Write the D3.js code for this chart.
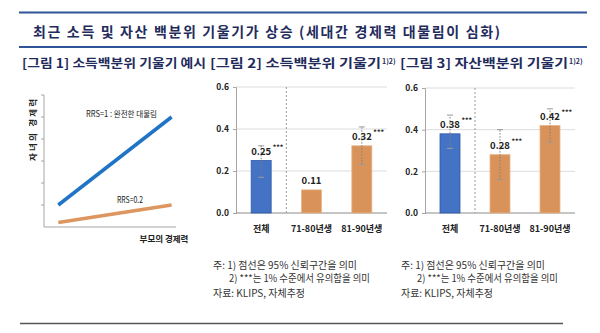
<!DOCTYPE html>
<html>
<head>
<meta charset="utf-8">
<script src="https://cdn.jsdelivr.net/npm/d3@7"></script>
<style>
  body { margin: 0; background: #fff; }
  svg { display: block; font-family: "Noto Sans CJK KR", "Noto Sans", sans-serif; }
</style>
</head>
<body>
<svg id="chart" width="600" height="333"></svg>
<script>
// --- data ---
var title = '최근 소득 및 자산 백분위 기울기가 상승 (세대간 경제력 대물림이 심화)'
var panelTitles = ['[그림 1] 소득백분위 기울기 예시', '[그림 2] 소득백분위 기울기', '[그림 3] 자산백분위 기울기']
var panelSup = ['', '1)2)', '1)2)']

var categories = ['전체', '71-80년생', '81-90년생']
var yTicks = [0, 0.2, 0.4, 0.6]

var incomeValues = [0.25, 0.11, 0.32]
var incomeLow = [0.17, null, 0.23]
var incomeHigh = [0.32, null, 0.41]
var incomeSig = [true, false, true]

var assetValues = [0.38, 0.28, 0.42]
var assetLow = [0.31, 0.16, 0.34]
var assetHigh = [0.47, 0.40, 0.50]
var assetSig = [true, true, true]

// example panel: parent power (x) vs child power (y), arbitrary units
var exTicks = [1, 2, 3, 4, 5, 6]
var rrs1 = [[0.65, 1.0], [5.8, 5.0]]
var rrs02 = [[0.65, 0.2], [5.8, 1.0]]

var notes = ['주: 1) 점선은 95% 신뢰구간을 의미', '2) ***는 1% 수준에서 유의함을 의미', '자료: KLIPS, 자체추정']

var navy = '#1f2c5c', lineBlue = '#2f5597'
var barBlue = '#4472c4', barOrange = '#d9935a'

var svg = d3.select('#chart')

// --- header ---
svg.append('line').attr('x1', 19).attr('x2', 587).attr('y1', 12.5).attr('y2', 12.5)
  .attr('stroke', lineBlue).attr('stroke-width', 2)
svg.append('line').attr('x1', 19).attr('x2', 587).attr('y1', 47).attr('y2', 47)
  .attr('stroke', lineBlue).attr('stroke-width', 2)
svg.append('text').attr('x', 33).attr('y', 36.5)
  .attr('textLength', 467).attr('lengthAdjust', 'spacing')
  .style('font-size', '14px').style('font-weight', 'bold').attr('fill', navy)
  .text(title)

var ptX = [22, 210, 400], ptW = [184, 171, 168]
panelTitles.forEach(function(t, i) {
  var tx = svg.append('text').attr('x', ptX[i]).attr('y', 68)
    .style('font-size', '12.5px').style('font-weight', 'bold').attr('fill', navy)
  tx.append('tspan').attr('textLength', ptW[i]).attr('lengthAdjust', 'spacingAndGlyphs').text(t)
  if (panelSup[i]) tx.append('tspan').attr('dy', -4).attr('dx', 1)
    .style('font-size', '7px').text(panelSup[i])
})

// --- panel 1: example ---
var ex = svg.append('g')
var exX = d3.scaleLinear().domain([0, 6]).range([44, 176])
var exY = d3.scaleLinear().domain([0, 6]).range([227, 95])
ex.append('line').attr('x1', exX(0)).attr('x2', exX(0)).attr('y1', exY(0)).attr('y2', exY(6))
  .attr('stroke', '#a6a6a6')
ex.append('line').attr('x1', exX(0)).attr('x2', exX(6)).attr('y1', exY(0)).attr('y2', exY(0))
  .attr('stroke', '#a6a6a6')
ex.selectAll('.tk').data(exTicks).join('line')
  .attr('x1', exX(0) - 3).attr('x2', exX(0)).attr('y1', d => exY(d)).attr('y2', d => exY(d))
  .attr('stroke', '#a6a6a6')
var exLine = d3.line().x(d => exX(d[0])).y(d => exY(d[1]))
ex.append('path').attr('d', exLine(rrs1)).attr('stroke', '#1f74c6').attr('stroke-width', 3.5).attr('fill', 'none')
ex.append('path').attr('d', exLine(rrs02)).attr('stroke', '#dd9660').attr('stroke-width', 3.5).attr('fill', 'none')
ex.append('text').attr('x', 86).attr('y', 116.5).style('font-size', '8.5px').attr('fill', '#222')
  .attr('textLength', 71).attr('lengthAdjust', 'spacingAndGlyphs').text('RRS=1 : 완전한 대물림')
ex.append('text').attr('x', 117).attr('y', 202.5).style('font-size', '8.5px').attr('fill', '#222')
  .attr('textLength', 26).attr('lengthAdjust', 'spacingAndGlyphs').text('RRS=0.2')
ex.append('text').attr('transform', 'translate(36,130) rotate(-90)').attr('text-anchor', 'middle')
  .attr('textLength', 62).attr('lengthAdjust', 'spacing')
  .style('font-size', '8.5px').style('font-weight', 'bold').attr('fill', '#222').text('자녀의 경제력')
ex.append('text').attr('x', 164).attr('y', 242).attr('text-anchor', 'middle')
  .style('font-size', '8.5px').style('font-weight', 'bold').attr('fill', '#222').text('부모의 경제력')

// --- bar panels ---
function barPanel(x0, x1, yTop, values, low, high, sig) {
  var g = svg.append('g')
  var x = d3.scalePoint().domain(categories).range([x0, x1]).padding(0.5)
  var y = d3.scaleLinear().domain([0, 0.6]).range([213, yTop])
  var step = x.step(), bw = 20

  g.selectAll('.grid').data(yTicks.slice(1)).join('line')
    .attr('x1', x0).attr('x2', x1).attr('y1', d => y(d)).attr('y2', d => y(d))
    .attr('stroke', '#dcdcdc')
  var ax = g.append('g').attr('transform', 'translate(' + x0 + ',0)')
    .call(d3.axisLeft(y).tickValues(yTicks).tickFormat(d3.format('.1f')).tickSize(3))
  ax.select('.domain').attr('stroke', '#a6a6a6')
  ax.selectAll('.tick line').attr('stroke', '#a6a6a6')
  ax.selectAll('.tick text').attr('x', -7).style('font-size', '8.5px').style('font-weight', 'bold')
    .style('font-family', '"Noto Sans CJK KR", sans-serif').attr('fill', '#222')
  g.append('line').attr('x1', x0).attr('x2', x1).attr('y1', y(0)).attr('y2', y(0))
    .attr('stroke', '#8c8c8c').attr('stroke-width', 1.2)
  var sep = x(categories[0]) + step / 2
  g.append('line').attr('x1', sep).attr('x2', sep).attr('y1', y(0.6)).attr('y2', y(0))
    .attr('stroke', '#9a9a9a').attr('stroke-dasharray', '2,2')

  g.selectAll('.bar').data(values).join('rect')
    .attr('x', (d, i) => x(categories[i]) - bw / 2).attr('width', bw)
    .attr('y', d => y(d)).attr('height', d => y(0) - y(d))
    .attr('fill', (d, i) => i == 0 ? barBlue : barOrange)
    .attr('stroke', (d, i) => i == 0 ? '#2f5aa8' : '#e7b488').attr('stroke-width', 0.8)

  values.forEach(function(v, i) {
    var cx = x(categories[i])
    if (low[i] != null) {
      g.append('line').attr('x1', cx).attr('x2', cx).attr('y1', y(low[i])).attr('y2', y(high[i]))
        .attr('stroke', '#7f7f7f').attr('stroke-dasharray', '1.5,1.5')
      ;[low[i], high[i]].forEach(function(e) {
        g.append('line').attr('x1', cx - 3).attr('x2', cx + 3).attr('y1', y(e)).attr('y2', y(e))
          .attr('stroke', '#9a9a9a')
      })
    }
    g.append('text').attr('x', cx).attr('y', y(v) - 5.5).attr('text-anchor', 'middle')
      .style('font-size', '9.5px').style('font-weight', 'bold').attr('fill', '#222').text(v.toFixed(2))
    if (sig[i]) g.append('text').attr('x', cx + 11.5).attr('y', y(v) - 11)
      .style('font-size', '7px').style('font-weight', 'bold').attr('fill', '#222').text('***')
    g.append('text').attr('x', cx).attr('y', 231.5).attr('text-anchor', 'middle')
      .style('font-size', '9px').style('font-weight', 'bold').attr('fill', '#222').text(categories[i])
  })
}
barPanel(236, 387, 87, incomeValues, incomeLow, incomeHigh, incomeSig)
barPanel(425, 575, 88, assetValues, assetLow, assetHigh, assetSig)

// --- notes ---
;[213, 401].forEach(function(nx) {
  var ny = [268.5, 282, 296.5]
  var nxs = [nx, nx + 16, nx]
  var nw = [144, 141, 92]
  notes.forEach(function(t, i) {
    svg.append('text').attr('x', nxs[i]).attr('y', ny[i])
      .attr('textLength', nw[i]).attr('lengthAdjust', 'spacingAndGlyphs')
      .style('font-size', '10px').attr('fill', '#333').text(t)
  })
})
svg.append('line').attr('x1', 20).attr('x2', 563).attr('y1', 323.5).attr('y2', 323.5)
  .attr('stroke', '#555').attr('stroke-width', 1.5)
</script>
</body>
</html>
